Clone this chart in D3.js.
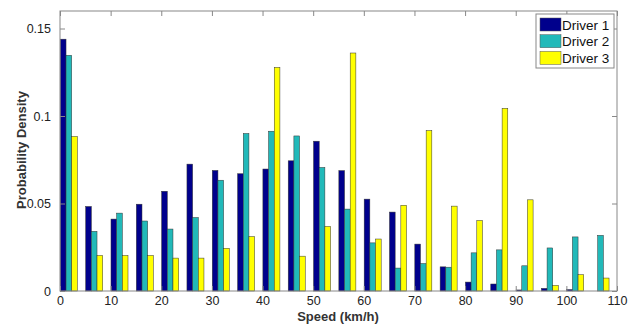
<!DOCTYPE html>
<html>
<head>
<meta charset="utf-8">
<script src="https://cdn.jsdelivr.net/npm/d3@7"></script>
<style>
  body { margin: 0; background: #fff; }
  text { font-family: "Liberation Sans", Arial, sans-serif; }
</style>
</head>
<body>
<div id="chart"></div>
<script>
const W = 638, H = 324;
const M = {left: 60, right: 21, top: 11, bottom: 33};

const binCenters = [1.75, 6.75, 11.75, 16.75, 21.75, 26.75, 31.75, 36.75, 41.75, 46.75, 51.75,
  56.75, 61.75, 66.75, 71.75, 76.75, 81.75, 86.75, 91.75, 96.75, 101.75, 106.75];
const driver1 = [0.1439, 0.0483, 0.0411, 0.0496, 0.0570, 0.0725, 0.0689, 0.0670, 0.0697, 0.0744, 0.0856,
  0.0688, 0.0525, 0.0451, 0.0268, 0.0138, 0.0051, 0.0040, 0.0006, 0.0015, 0.0008, 0];
const driver2 = [0.1347, 0.0341, 0.0445, 0.0400, 0.0354, 0.0420, 0.0633, 0.0900, 0.0913, 0.0886, 0.0706,
  0.0468, 0.0275, 0.0131, 0.0157, 0.0136, 0.0218, 0.0235, 0.0144, 0.0246, 0.0309, 0.0318];
const driver3 = [0.0883, 0.0203, 0.0203, 0.0203, 0.0188, 0.0188, 0.0244, 0.0311, 0.1278, 0.0199, 0.0369,
  0.1360, 0.0297, 0.0490, 0.0917, 0.0485, 0.0403, 0.1044, 0.0521, 0.0032, 0.0093, 0.0074];
const seriesNames = ["Driver 1", "Driver 2", "Driver 3"];
const seriesColors = ["#00008c", "#21b9b9", "#ffff00"];
const xTicks = [0, 10, 20, 30, 40, 50, 60, 70, 80, 90, 100, 110];
const yTicks = [0, 0.05, 0.1, 0.15];

const series = [driver1, driver2, driver3];

const svg = d3.select("#chart").append("svg")
  .attr("width", W).attr("height", H);

const x = d3.scaleLinear().domain([0, 110]).range([M.left, W - M.right]);
const y = d3.scaleLinear().domain([0, 0.16]).range([H - M.bottom, M.top]);

const barW = 1.12; // in data units
const g = svg.append("g");
series.forEach((vals, s) => {
  g.selectAll(null)
    .data(vals.map((v, i) => ({v, c: binCenters[i]})))
    .join("rect")
    .attr("x", d => x(d.c + (s - 1) * barW - barW / 2))
    .attr("width", x(barW) - x(0))
    .attr("y", d => y(d.v))
    .attr("height", d => y(0) - y(d.v))
    .attr("fill", seriesColors[s])
    .attr("stroke", "#333")
    .attr("stroke-width", 0.5);
});

// box
svg.append("rect")
  .attr("x", M.left).attr("y", M.top)
  .attr("width", W - M.left - M.right).attr("height", H - M.top - M.bottom)
  .attr("fill", "none").attr("stroke", "#888").attr("stroke-width", 1);

const axisFont = g => g.selectAll("text")
  .attr("font-size", 12.5).attr("fill", "#222");

svg.append("g")
  .attr("transform", `translate(0,${H - M.bottom})`)
  .call(d3.axisBottom(x).tickValues(xTicks).tickSize(-5).tickPadding(5).tickFormat(d3.format("d")))
  .call(g => g.select(".domain").remove())
  .call(g => g.selectAll("line").attr("stroke", "#888"))
  .call(axisFont);

svg.append("g")
  .attr("transform", `translate(0,${M.top})`)
  .call(d3.axisTop(x).tickValues(xTicks).tickSize(-5).tickFormat(""))
  .call(g => g.select(".domain").remove())
  .call(g => g.selectAll("line").attr("stroke", "#888"));

svg.append("g")
  .attr("transform", `translate(${M.left},0)`)
  .call(d3.axisLeft(y).tickValues(yTicks).tickSize(-5).tickPadding(9).tickFormat(d => d === 0 ? "0" : d3.format("")(d)))
  .call(g => g.select(".domain").remove())
  .call(g => g.selectAll("line").attr("stroke", "#888"))
  .call(axisFont);

svg.append("g")
  .attr("transform", `translate(${W - M.right},0)`)
  .call(d3.axisRight(y).tickValues(yTicks).tickSize(-5).tickFormat(""))
  .call(g => g.select(".domain").remove())
  .call(g => g.selectAll("line").attr("stroke", "#888"));

// axis labels
svg.append("text")
  .attr("x", 338).attr("y", 321)
  .attr("text-anchor", "middle")
  .attr("font-size", 13).attr("font-weight", "bold").attr("fill", "#333")
  .text("Speed (km/h)");

svg.append("text")
  .attr("transform", "translate(26,150) rotate(-90)")
  .attr("text-anchor", "middle")
  .attr("font-size", 13).attr("font-weight", "bold").attr("fill", "#333")
  .text("Probability Density");

// legend
const lg = svg.append("g").attr("transform", "translate(536,14)");
lg.append("rect").attr("width", 78).attr("height", 54)
  .attr("fill", "#fff").attr("stroke", "#888");
seriesNames.forEach((name, i) => {
  const row = lg.append("g").attr("transform", `translate(0,${4 + i * 16.7})`);
  row.append("rect").attr("x", 4).attr("y", 0).attr("width", 21).attr("height", 13)
    .attr("fill", seriesColors[i]).attr("stroke", "#555").attr("stroke-width", 0.5);
  row.append("text").attr("x", 26).attr("y", 11.5)
    .attr("font-size", 13.5).attr("fill", "#111").text(name);
});
</script>
</body>
</html>
